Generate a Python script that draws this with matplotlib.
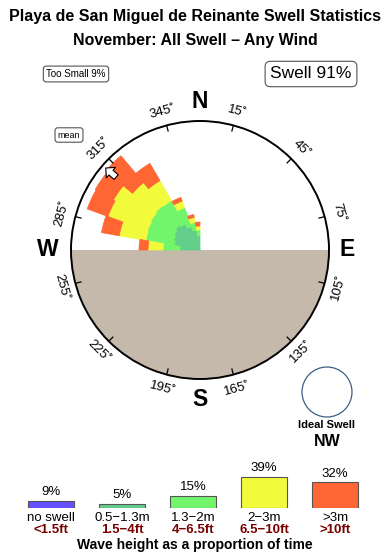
import numpy as np
import matplotlib
matplotlib.use('Agg')
import matplotlib.pyplot as plt
from matplotlib.patches import Circle

plt.rcParams['font.family'] = ['Liberation Sans', 'DejaVu Sans']

# swell rose, 10 degree bins (bearing of bin centre), thickness of each band
bin_dirs = [275, 285, 295, 305, 315, 325, 335, 345, 355]
band_05_13 = [2.0, 2.6, 2.8, 3.0, 3.2, 3.0, 2.5, 2.0, 1.4]
band_13_2 = [1.7, 2.9, 2.8, 2.7, 2.6, 2.7, 2.0, 0.8, 0.6]
band_2_3 = [1.5, 2.7, 4.2, 4.3, 3.0, 2.3, 0.7, 0.5, 0.4]
band_3 = [0.9, 1.8, 2.2, 2.1, 3.5, 2.0, 0.4, 0.3, 0.4]
rmax = 12.9

tick_angles = [15, 45, 75, 105, 135, 165, 195, 225, 255, 285, 315, 345]
mean_dir = 311

# legend
leg_pct = [9, 5, 15, 39, 32]
leg_names = ['no swell', '0.5\u22121.3m', '1.3\u22122m', '2\u22123m', '>3m']
leg_feet = ['<1.5ft', '1.5\u22124ft', '4\u22126.5ft', '6.5\u221210ft', '>10ft']
leg_cols = ['#6651FF', '#62CE8A', '#72F56A', '#F2FA3C', '#FF6633']

fig = plt.figure(figsize=(3.9, 5.6), dpi=100)

# overlay for titles and boxes, 1 unit = 1 pixel
ov = fig.add_axes([0, 0, 1, 1])
ov.set_xlim(0, 390)
ov.set_ylim(560, 0)
ov.axis('off')

ov.text(195, 17, 'Playa de San Miguel de Reinante Swell Statistics', ha='center', va='center',
        fontsize=11.5, fontweight='bold')
ov.text(195, 41, 'November: All Swell \u2013 Any Wind', ha='center', va='center',
        fontsize=11.5, fontweight='bold')
box = dict(boxstyle='round,pad=0.3', fc='white', ec='#555555', lw=0.8)
ov.text(76, 74, 'Too Small 9%', ha='center', va='center', fontsize=7, bbox=box)
ov.text(311, 74, 'Swell 91%', ha='center', va='center', fontsize=12.5, bbox=box)
ov.text(69, 135, 'mean', ha='center', va='center', fontsize=6.5, bbox=box)

ov.add_patch(Circle((327, 392), 25, fc='white', ec='#3D5F85', lw=0.9))
ov.text(327, 425, 'Ideal Swell', ha='center', va='center', fontsize=8, fontweight='bold')
ov.text(327, 441, 'NW', ha='center', va='center', fontsize=11.5, fontweight='bold')
ov.text(195, 545, 'Wave height as a proportion of time', ha='center', va='center',
        fontsize=10, fontweight='bold')

# the rose
ax = fig.add_axes([71 / 390, 1 - 379 / 560, 258 / 390, 258 / 560], projection='polar')
ax.set_theta_zero_location('N')
ax.set_theta_direction(-1)
ax.set_ylim(0, rmax)
ax.grid(False)
ax.set_xticks([])
ax.set_yticks([])
ax.spines['polar'].set_linewidth(1.4)

ax.bar(np.pi, rmax, width=np.pi, color='#C5B9AC', zorder=0)

theta = np.deg2rad(bin_dirs)
w = np.deg2rad(10)
bottom = np.zeros(len(bin_dirs))
for vals, col in zip([band_05_13, band_13_2, band_2_3, band_3], leg_cols[1:]):
    ax.bar(theta, vals, width=w, bottom=bottom, color=col,
           edgecolor=col, lw=0.5, zorder=2)
    bottom = bottom + np.array(vals)

th = np.deg2rad(mean_dir)
ax.annotate('', xy=(th, rmax * 0.99), xytext=(th, rmax * 0.84),
            arrowprops=dict(arrowstyle='simple,head_width=1.0,tail_width=0.45',
                            fc='white', ec='black', lw=0.8), zorder=4)

for a in tick_angles:
    t = np.deg2rad(a)
    ax.plot([t, t], [rmax * 0.955, rmax], color='black', lw=0.9, zorder=3)
    rot = -a if (a < 90 or a > 270) else 180 - a
    ax.text(t, rmax * 1.11, f'{a}\u02da', ha='center', va='center', rotation=rot,
            rotation_mode='anchor', fontsize=9.5, clip_on=False)

for lab, a, r in [('N', 0, 1.15), ('E', 90, 1.14), ('S', 180, 1.16), ('W', 270, 1.18)]:
    ax.text(np.deg2rad(a), rmax * r, lab, ha='center', va='center', fontsize=16.5,
            fontweight='bold', clip_on=False)

# legend bars
lg = fig.add_axes([15.5 / 390, 52 / 560, 355 / 390, 40 / 560])
lg.bar(range(5), leg_pct, width=0.65, color=leg_cols, edgecolor='#555555', lw=0.8)
lg.set_xlim(-0.5, 4.5)
lg.set_ylim(0, 50)
lg.axis('off')
for i in range(5):
    lg.annotate(f'{leg_pct[i]}%', (i, leg_pct[i]), xytext=(0, 2), textcoords='offset points',
                ha='center', va='bottom', fontsize=9.5)
    lg.annotate(leg_names[i], (i, 0), xytext=(0, -7.5), textcoords='offset points',
                ha='center', va='center', fontsize=9.5, annotation_clip=False)
    lg.annotate(leg_feet[i], (i, 0), xytext=(0, -15.5), textcoords='offset points',
                ha='center', va='center', fontsize=9.5, color='#7A0000',
                fontweight='bold', annotation_clip=False)

fig.savefig('out.png', dpi=100)
